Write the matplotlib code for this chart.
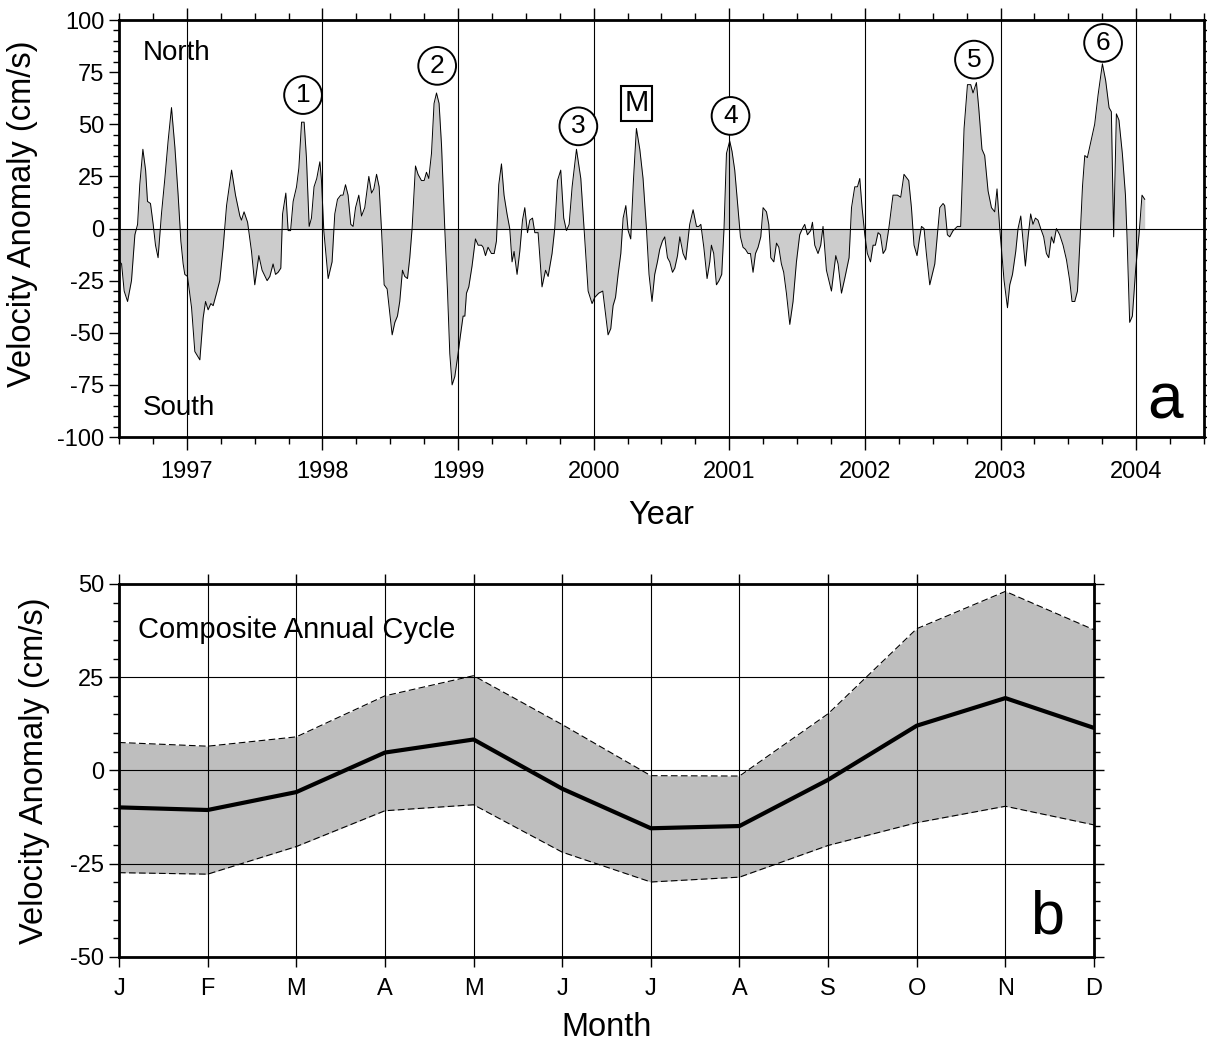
import matplotlib.pyplot as plt
from matplotlib.ticker import MultipleLocator

plt.rcParams['font.family'] = ['Liberation Sans', 'DejaVu Sans']
plt.rcParams['axes.unicode_minus'] = False

# panel a: weekly velocity anomaly (cm/s)
years = [
    1996.506, 1996.519, 1996.538, 1996.563, 1996.592, 1996.617, 1996.637, 1996.653, 1996.676, 1996.696,
    1996.710, 1996.732, 1996.752, 1996.769, 1996.788, 1996.813, 1996.838, 1996.862, 1996.887, 1996.912,
    1996.936, 1996.956, 1996.973, 1996.985, 1997.005, 1997.035, 1997.059, 1997.096, 1997.120, 1997.138,
    1997.157, 1997.177, 1997.194, 1997.219, 1997.243, 1997.268, 1997.293, 1997.330, 1997.359, 1997.391,
    1997.403, 1997.422, 1997.448, 1997.477, 1997.501, 1997.531, 1997.555, 1997.592, 1997.612, 1997.636,
    1997.654, 1997.673, 1997.693, 1997.706, 1997.730, 1997.747, 1997.765, 1997.784, 1997.809, 1997.826,
    1997.846, 1997.865, 1997.882, 1997.902, 1997.919, 1997.938, 1997.958, 1997.981, 1997.993, 1998.010,
    1998.042, 1998.071, 1998.091, 1998.111, 1998.135, 1998.152, 1998.170, 1998.189, 1998.209, 1998.226,
    1998.244, 1998.268, 1998.288, 1998.312, 1998.342, 1998.362, 1998.379, 1998.399, 1998.418, 1998.435,
    1998.455, 1998.477, 1998.514, 1998.534, 1998.553, 1998.570, 1998.590, 1998.607, 1998.627, 1998.644,
    1998.661, 1998.686, 1998.705, 1998.730, 1998.750, 1998.767, 1998.784, 1998.804, 1998.823, 1998.841,
    1998.860, 1998.878, 1998.902, 1998.922, 1998.939, 1998.956, 1998.976, 1999.000, 1999.018, 1999.037,
    1999.050, 1999.062, 1999.079, 1999.103, 1999.128, 1999.148, 1999.173, 1999.185, 1999.202, 1999.221,
    1999.246, 1999.266, 1999.283, 1999.300, 1999.320, 1999.339, 1999.361, 1999.381, 1999.398, 1999.413,
    1999.435, 1999.455, 1999.475, 1999.492, 1999.512, 1999.529, 1999.549, 1999.566, 1999.590, 1999.619,
    1999.645, 1999.664, 1999.693, 1999.713, 1999.733, 1999.757, 1999.779, 1999.799, 1999.819, 1999.841,
    1999.873, 1999.905, 1999.929, 1999.959, 1999.988, 2000.008, 2000.037, 2000.067, 2000.087, 2000.106,
    2000.126, 2000.143, 2000.161, 2000.180, 2000.200, 2000.217, 2000.237, 2000.254, 2000.273, 2000.293,
    2000.315, 2000.340, 2000.364, 2000.389, 2000.408, 2000.430, 2000.450, 2000.470, 2000.487, 2000.507,
    2000.524, 2000.544, 2000.561, 2000.581, 2000.598, 2000.618, 2000.635, 2000.659, 2000.679, 2000.708,
    2000.733, 2000.758, 2000.775, 2000.790, 2000.812, 2000.836, 2000.856, 2000.868, 2000.885, 2000.905,
    2000.924, 2000.944, 2000.961, 2000.979, 2001.003, 2001.020, 2001.040, 2001.060, 2001.082, 2001.101,
    2001.119, 2001.138, 2001.156, 2001.175, 2001.193, 2001.212, 2001.232, 2001.249, 2001.274, 2001.291,
    2001.306, 2001.328, 2001.348, 2001.365, 2001.384, 2001.401, 2001.421, 2001.446, 2001.470, 2001.495,
    2001.519, 2001.539, 2001.556, 2001.576, 2001.600, 2001.613, 2001.630, 2001.654, 2001.674, 2001.691,
    2001.716, 2001.753, 2001.785, 2001.802, 2001.827, 2001.851, 2001.883, 2001.901, 2001.925, 2001.945,
    2001.962, 2001.979, 2001.999, 2002.018, 2002.041, 2002.060, 2002.077, 2002.097, 2002.114, 2002.134,
    2002.153, 2002.176, 2002.207, 2002.240, 2002.264, 2002.288, 2002.323, 2002.343, 2002.362, 2002.384,
    2002.404, 2002.417, 2002.436, 2002.453, 2002.478, 2002.515, 2002.552, 2002.576, 2002.588, 2002.608,
    2002.625, 2002.650, 2002.682, 2002.706, 2002.731, 2002.756, 2002.780, 2002.797, 2002.822, 2002.839,
    2002.863, 2002.883, 2002.908, 2002.933, 2002.957, 2002.974, 2002.994, 2003.026, 2003.051, 2003.068,
    2003.088, 2003.112, 2003.129, 2003.149, 2003.166, 2003.183, 2003.203, 2003.222, 2003.239, 2003.257,
    2003.276, 2003.296, 2003.318, 2003.338, 2003.355, 2003.375, 2003.392, 2003.412, 2003.436, 2003.461,
    2003.486, 2003.510, 2003.527, 2003.547, 2003.567, 2003.584, 2003.604, 2003.621, 2003.640, 2003.670,
    2003.694, 2003.719, 2003.751, 2003.775, 2003.800, 2003.817, 2003.834, 2003.854, 2003.873, 2003.898,
    2003.921, 2003.932, 2003.952, 2003.972, 2003.997, 2004.021, 2004.043, 2004.063,
]
velocity = [
    -16, -17, -30, -35, -25, -3, 2, 21, 38, 28,
    13, 12, 2, -8, -14, 7, 24, 42, 58, 39,
    16, -6, -17, -22, -23, -38, -59, -63, -43, -35,
    -39, -36, -37, -31, -25, -9, 11, 28, 16, 6,
    4, 8, 3, -11, -27, -13, -20, -25, -23, -17,
    -22, -21, -19, 7, 17, -1, -1, 13, 20, 29,
    51, 51, 34, 1, 5, 20, 24, 32, 23, -1,
    -24, -16, 7, 14, 16, 16, 21, 16, 2, 1,
    10, 16, 6, 10, 25, 17, 19, 26, 20, 0,
    -27, -29, -51, -45, -42, -35, -20, -23, -24, -14,
    0, 30, 26, 23, 23, 27, 24, 36, 60, 65,
    60, 40, 0, -30, -60, -75, -71, -60, -51, -42,
    -42, -31, -28, -18, -5, -8, -8, -9, -13, -9,
    -12, -12, -6, 21, 31, 16, 7, 0, -16, -11,
    -22, -11, 4, 10, -2, 4, 5, -2, -2, -28,
    -20, -23, -12, 0, 23, 28, 5, -1, 2, 20,
    38, 24, 0, -30, -36, -33, -31, -30, -41, -51,
    -48, -37, -33, -22, -12, 5, 11, -1, -5, 23,
    48, 38, 24, 0, -22, -35, -22, -16, -10, -6,
    -4, -14, -16, -21, -19, -13, -4, -12, -15, 2,
    9, 1, 1, 2, -9, -24, -16, -8, -12, -27,
    -25, -22, 0, 36, 42, 37, 28, 13, -4, -9,
    -10, -12, -12, -21, -12, -9, -4, 10, 8, 2,
    -14, -16, -7, -9, -17, -21, -31, -46, -35, -16,
    -3, 0, 2, -3, -1, 3, -8, -12, -8, 1,
    -20, -30, -13, -17, -31, -24, -14, 10, 20, 20,
    24, 10, -3, -12, -16, -8, -8, -2, -3, -12,
    -10, 0, 16, 16, 15, 26, 23, 10, -8, -13,
    -4, 1, 0, -12, -27, -17, 10, 12, 11, -3,
    -4, -1, 1, 1, 48, 69, 69, 65, 70, 58,
    38, 35, 18, 10, 8, 19, 0, -25, -38, -27,
    -22, -11, 0, 6, -6, -18, -4, 7, 2, 5,
    4, 0, -4, -12, -14, -4, -7, 0, -3, -8,
    -15, -25, -35, -35, -30, -8, 20, 35, 34, 43,
    50, 64, 79, 71, 58, 56, -4, 55, 52, 36,
    16, -3, -45, -42, -19, -3, 16, 14,
]

# labelled events in panel a
event_labels = ['1', '2', '3', 'M', '4', '5', '6']
event_years = [1997.857, 1998.846, 1999.887, 2000.315, 2001.009, 2002.804, 2003.756]
event_values = [64, 78, 49, 60, 54, 81, 89]

# panel b: composite annual cycle
months = ['J', 'F', 'M', 'A', 'M', 'J', 'J', 'A', 'S', 'O', 'N', 'D']
cycle_mean = [-9.9, -10.6, -5.8, 4.8, 8.3, -4.9, -15.5, -14.9, -2.5, 12.0, 19.4, 11.4]
cycle_upper = [7.5, 6.5, 9.0, 20.0, 25.4, 12.3, -1.4, -1.5, 15.2, 38.0, 48.0, 37.7]
cycle_lower = [-27.4, -27.8, -20.4, -10.8, -9.2, -21.9, -29.9, -28.6, -20.1, -14.0, -9.6, -14.6]

fig = plt.figure(figsize=(12.07, 10.42), dpi=100)
ax1 = fig.add_axes([0.0986, 0.5806, 0.8989, 0.4002])
ax2 = fig.add_axes([0.0986, 0.0816, 0.8078, 0.3580])

tick_fs = 17
label_fs = 23.5


def style_axes(ax):
    for s in ax.spines.values():
        s.set_linewidth(2.0)
    ax.tick_params(which='both', direction='out', top=True, right=True, width=1.0,
                   labelsize=tick_fs, labeltop=False, labelright=False)
    ax.tick_params(which='major', length=7)
    ax.tick_params(which='minor', length=4)


# ---- panel a ----
ax1.fill_between(years, velocity, 0, color='#cccccc', linewidth=0)
ax1.plot(years, velocity, color='black', linewidth=0.7)
ax1.axhline(0, color='black', linewidth=0.8)
ax1.set_xlim(1996.5, 2004.5)
ax1.set_ylim(-100, 100)
ax1.xaxis.set_major_locator(MultipleLocator(1))
ax1.xaxis.set_minor_locator(MultipleLocator(0.25))
ax1.yaxis.set_major_locator(MultipleLocator(25))
ax1.yaxis.set_minor_locator(MultipleLocator(5))
ax1.set_xticks(range(1997, 2005))
ax1.set_xticklabels([str(y) for y in range(1997, 2005)])
ax1.grid(axis='x', which='major', color='black', linewidth=0.8)
style_axes(ax1)
ax1.tick_params(axis='x', which='major', length=9, pad=8)
ax1.tick_params(axis='x', which='minor', length=5)
ax1.set_xlabel('Year', fontsize=label_fs)
ax1.set_ylabel('Velocity Anomaly (cm/s)', fontsize=label_fs)
ax1.xaxis.set_label_coords(0.5, -0.152)
ax1.yaxis.set_label_coords(-0.075, 0.535)

ax1.text(1996.677, 84, 'North', fontsize=20, ha='left', va='center')
ax1.text(1996.677, -86, 'South', fontsize=20, ha='left', va='center')
ax1.text(0.981, 0.045, 'a', transform=ax1.transAxes, fontsize=46,
         ha='right', va='baseline')

for lab, ex, ev in zip(event_labels, event_years, event_values):
    if lab == 'M':
        ax1.text(ex, ev, lab, fontsize=21, ha='center', va='center',
                 bbox=dict(boxstyle='square,pad=0.12', fc='white', ec='black', lw=1.5))
    else:
        ax1.text(ex, ev, lab, fontsize=19, ha='center', va='center',
                 bbox=dict(boxstyle='circle,pad=0.26', fc='white', ec='black', lw=1.4))

# ---- panel b ----
mx = list(range(len(months)))
ax2.fill_between(mx, cycle_lower, cycle_upper, color='#bebebe', linewidth=0)
ax2.plot(mx, cycle_upper, color='black', linewidth=0.8, dashes=(6, 3))
ax2.plot(mx, cycle_lower, color='black', linewidth=0.8, dashes=(6, 3))
ax2.plot(mx, cycle_mean, color='black', linewidth=3.0)
ax2.set_xlim(0, 11)
ax2.set_ylim(-50, 50)
ax2.set_xticks(mx)
ax2.set_xticklabels(months)
ax2.yaxis.set_major_locator(MultipleLocator(25))
ax2.yaxis.set_minor_locator(MultipleLocator(5))
ax2.grid(which='major', color='black', linewidth=0.8)
ax2.set_axisbelow(False)
style_axes(ax2)
ax2.tick_params(axis='x', which='major', length=7, pad=8)
ax2.set_xlabel('Month', fontsize=label_fs)
ax2.set_ylabel('Velocity Anomaly (cm/s)', fontsize=label_fs)
ax2.xaxis.set_label_coords(0.5, -0.147)
ax2.yaxis.set_label_coords(-0.071, 0.5)
ax2.text(0.0195, 0.877, 'Composite Annual Cycle', transform=ax2.transAxes,
         fontsize=21, ha='left', va='center')
ax2.text(0.969, 0.064, 'b', transform=ax2.transAxes, fontsize=44,
         ha='right', va='baseline')

fig.savefig('out.png', dpi=100)
